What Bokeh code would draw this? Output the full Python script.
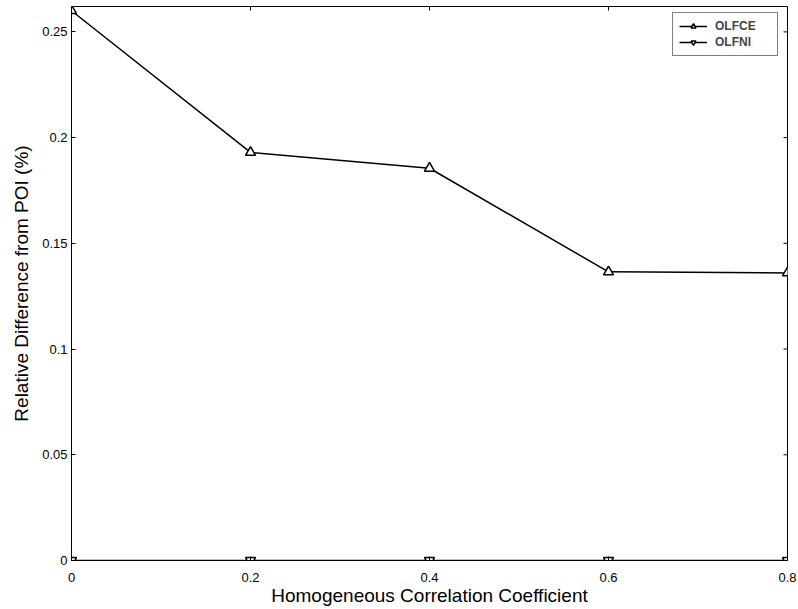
import math

from bokeh.plotting import figure
from bokeh.models import Range1d, FixedTicker, Legend, LegendItem
from bokeh.embed import file_html
from bokeh.resources import INLINE

# Homogeneous correlation coefficient vs. relative difference from POI
rho = [0.0, 0.2, 0.4, 0.6, 0.8]
olfce = [0.260, 0.193, 0.1855, 0.1365, 0.136]
olfni = [0.0, 0.0, 0.0, 0.0, 0.0]

x_ticks = [0.0, 0.2, 0.4, 0.6, 0.8]
x_tick_labels = ["0", "0.2", "0.4", "0.6", "0.8"]
y_ticks = [0.0, 0.05, 0.1, 0.15, 0.2, 0.25]
y_tick_labels = ["0", "0.05", "0.1", "0.15", "0.2", "0.25"]

X_MIN, X_MAX = 0.0, 0.8
Y_MIN, Y_MAX = 0.0, 0.262

FONT = "Liberation Sans"

p = figure(width=798, height=609, output_backend="svg", toolbar_location=None,
           x_range=Range1d(X_MIN, X_MAX), y_range=Range1d(Y_MIN, Y_MAX),
           min_border_left=71, min_border_right=11, min_border_top=6,
           min_border_bottom=49)
p.background_fill_color = "white"
p.border_fill_color = "white"
p.outline_line_color = "black"
p.outline_line_width = 1
p.grid.visible = False

p.xaxis.axis_label = "Homogeneous Correlation Coefficient"
p.yaxis.axis_label = "Relative Difference from POI (%)"

p.xaxis.ticker = FixedTicker(ticks=x_ticks)
p.yaxis.ticker = FixedTicker(ticks=y_ticks)
p.xaxis.major_label_overrides = dict(zip(x_ticks, x_tick_labels))
p.yaxis.major_label_overrides = dict(zip(y_ticks, y_tick_labels))

for ax in (p.xaxis[0], p.yaxis[0]):
    ax.major_tick_in = 4
    ax.major_tick_out = 0
    ax.minor_tick_in = 0
    ax.minor_tick_out = 0
    ax.axis_line_color = "black"
    ax.major_tick_line_color = "black"
    ax.major_label_text_font = FONT
    ax.major_label_text_font_size = "13px"
    ax.major_label_text_color = "black"
    ax.axis_label_text_font = FONT
    ax.axis_label_text_font_size = "19px"
    ax.axis_label_text_font_style = "normal"
    ax.axis_label_text_color = "black"

p.xaxis.major_label_standoff = 12
p.xaxis.axis_label_standoff = 0
p.yaxis.major_label_standoff = 4
p.yaxis.axis_label_standoff = 7

# Inward tick marks mirrored on the top and right edges of the box
p.ray(x=x_ticks, y=[Y_MAX] * len(x_ticks), length=4, length_units="screen",
      angle=-math.pi / 2, line_color="black", line_width=1)
p.ray(x=[X_MAX] * len(y_ticks), y=y_ticks, length=4, length_units="screen",
      angle=math.pi, line_color="black", line_width=1)

l1 = p.line(rho, olfce, line_color="black", line_width=1.5)
m1 = p.scatter(rho, olfce, marker="triangle", size=10, line_color="black",
               line_width=1.5, fill_color="white")
l2 = p.line(rho, olfni, line_color="black", line_width=1.5)
m2 = p.scatter(rho, olfni, marker="inverted_triangle", size=10, line_color="black",
               line_width=1.5, fill_color="white")

legend = Legend(items=[LegendItem(label="OLFCE", renderers=[l1, m1]),
                       LegendItem(label="OLFNI", renderers=[l2, m2])],
                location=(601, 504))
legend.border_line_color = "black"
legend.border_line_width = 1
legend.background_fill_color = "white"
legend.background_fill_alpha = 1
legend.label_text_font = FONT
legend.label_text_font_size = "12px"
legend.label_text_font_style = "bold"
legend.glyph_width = 28
legend.glyph_height = 12
legend.label_height = 12
legend.label_width = 56
legend.spacing = 2
legend.padding = 6
legend.margin = 0
legend.label_standoff = 8
p.add_layout(legend, "center")

open("out.html", "w").write(file_html(p, INLINE))
